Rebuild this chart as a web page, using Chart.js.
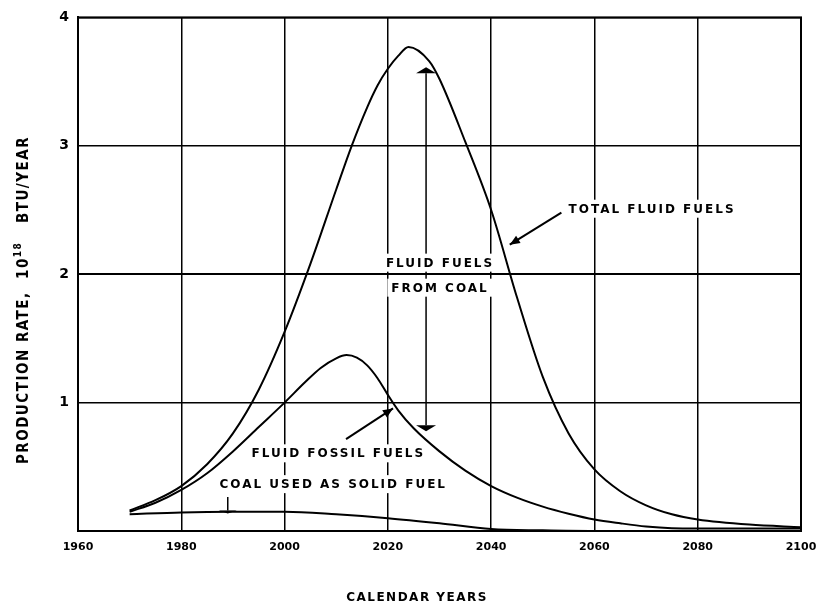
<!DOCTYPE html>
<html>
<head>
<meta charset="utf-8">
<script src="https://cdn.jsdelivr.net/npm/chart.js@4.4.1/dist/chart.umd.min.js"></script>
<style>
  html, body { margin: 0; padding: 0; background: #fff; }
  #wrap { width: 818px; height: 607px; }
</style>
</head>
<body>
<div id="wrap"><canvas id="fuelChart"></canvas></div>
<script>
// values (10^18 BTU/year)
const totalYears = [1970, 1975, 1980, 1985, 1990, 1995, 2000, 2005, 2010, 2013, 2016, 2018, 2020, 2022, 2024, 2028, 2030, 2035, 2040, 2045, 2050, 2055, 2060, 2065, 2070, 2075, 2080, 2090, 2100];
const totalFluid = [0.16, 0.24, 0.35, 0.52, 0.76, 1.1, 1.55, 2.08, 2.66, 3.0, 3.3, 3.47, 3.6, 3.7, 3.77, 3.66, 3.52, 3.03, 2.5, 1.82, 1.2, 0.76, 0.48, 0.31, 0.2, 0.13, 0.09, 0.05, 0.03];

const fossilYears = [1970, 1975, 1980, 1985, 1990, 1995, 2000, 2004, 2007, 2010, 2012, 2014, 2016, 2018, 2020, 2022, 2025, 2030, 2035, 2040, 2045, 2050, 2055, 2060, 2065, 2070, 2075, 2080, 2090, 2100];
const fossilFluid = [0.15, 0.22, 0.32, 0.45, 0.62, 0.81, 1.0, 1.16, 1.27, 1.345, 1.37, 1.35, 1.29, 1.19, 1.06, 0.94, 0.8, 0.62, 0.47, 0.35, 0.26, 0.19, 0.135, 0.09, 0.06, 0.035, 0.022, 0.02, 0.02, 0.02];

const coalYears = [1970, 1980, 1990, 2000, 2010, 2020, 2030, 2040, 2050, 2060, 2080, 2100];
const coalSolid = [0.13, 0.145, 0.15, 0.15, 0.13, 0.1, 0.06, 0.015, 0.005, 0, 0, 0];

const xTicks = [1960, 1980, 2000, 2020, 2040, 2060, 2080, 2100];
const yTicks = [0, 1, 2, 3, 4];

// text notes, placed in data units
const notes = [
  { text: 'TOTAL FLUID FUELS', x: 2055, y: 2.51, align: 'left' },
  { text: 'FLUID FUELS', x: 2030.1, y: 2.09, align: 'center' },
  { text: 'FROM COAL', x: 2030.1, y: 1.895, align: 'center' },
  { text: 'FLUID FOSSIL FUELS', x: 1993.6, y: 0.605, align: 'left' },
  { text: 'COAL USED AS SOLID FUEL', x: 1987.4, y: 0.365, align: 'left' }
];

const toPts = (xs, ys) => xs.map((v, i) => ({ x: v, y: ys[i] }));
const noteFont = 'bold 12px "DejaVu Sans", sans-serif';

function arrowHead(ctx, x1, y1, x2, y2, size) {
  const a = Math.atan2(y2 - y1, x2 - x1);
  ctx.beginPath();
  ctx.moveTo(x2, y2);
  ctx.lineTo(x2 - size * Math.cos(a - 0.4), y2 - size * Math.sin(a - 0.4));
  ctx.lineTo(x2 - size * Math.cos(a + 0.4), y2 - size * Math.sin(a + 0.4));
  ctx.closePath();
  ctx.fill();
}

function flatHead(ctx, px, py, dir) {
  // wide flat wedge like the hand-drawn marks
  ctx.beginPath();
  ctx.moveTo(px - 10, py);
  ctx.lineTo(px + 10, py);
  ctx.lineTo(px, py - dir * 6);
  ctx.closePath();
  ctx.fill();
}

const notesPlugin = {
  id: 'notes',
  beforeDatasetsDraw(chart) {
    const { ctx, scales: { x, y } } = chart;
    ctx.save();
    ctx.strokeStyle = '#000';
    ctx.fillStyle = '#000';
    ctx.lineWidth = 1.5;

    // double arrow: fluid fuels from coal
    const ax = x.getPixelForValue(2027.4);
    const top = y.getPixelForValue(3.565);
    const bot = y.getPixelForValue(0.823);
    ctx.beginPath();
    ctx.moveTo(ax, top);
    ctx.lineTo(ax, bot);
    ctx.stroke();
    flatHead(ctx, ax, top, 1);
    flatHead(ctx, ax, bot, -1);

    // small arrow to the coal curve
    const cx = x.getPixelForValue(1989);
    const c1 = y.getPixelForValue(0.264);
    const c2 = y.getPixelForValue(0.16);
    ctx.beginPath();
    ctx.moveTo(cx, c1);
    ctx.lineTo(cx, c2);
    ctx.stroke();
    ctx.beginPath();
    ctx.moveTo(cx - 9, c2);
    ctx.lineTo(cx + 9, c2);
    ctx.lineTo(cx, c2 + 3);
    ctx.closePath();
    ctx.fill();

    // labels on white patches
    ctx.font = noteFont;
    ctx.letterSpacing = '2px';
    ctx.textBaseline = 'middle';
    notes.forEach(n => {
      const w = ctx.measureText(n.text).width;
      const px = x.getPixelForValue(n.x);
      const py = y.getPixelForValue(n.y);
      const left = n.align === 'center' ? px - w / 2 : px;
      ctx.fillStyle = '#fff';
      ctx.fillRect(left - 4, py - 9, w + 8, 18);
      ctx.fillStyle = '#000';
      ctx.textAlign = 'left';
      ctx.fillText(n.text, left, py + 1);
    });

    // the y=2 line runs between the two lines of text
    const y2 = y.getPixelForValue(2);
    ctx.lineWidth = 1.5;
    ctx.beginPath();
    ctx.moveTo(chart.chartArea.left, y2);
    ctx.lineTo(chart.chartArea.right, y2);
    ctx.stroke();
    ctx.restore();
  },
  afterDatasetsDraw(chart) {
    const { ctx, scales: { x, y } } = chart;
    ctx.save();
    ctx.strokeStyle = '#000';
    ctx.fillStyle = '#000';
    ctx.lineWidth = 2;
    const arrows = [
      [2053.6, 2.48, 2043.6, 2.23],
      [2011.9, 0.715, 2021.0, 0.955]
    ];
    arrows.forEach(a => {
      const x1 = x.getPixelForValue(a[0]), y1 = y.getPixelForValue(a[1]);
      const x2 = x.getPixelForValue(a[2]), y2 = y.getPixelForValue(a[3]);
      ctx.beginPath();
      ctx.moveTo(x1, y1);
      ctx.lineTo(x2, y2);
      ctx.stroke();
      arrowHead(ctx, x1, y1, x2, y2, 11);
    });

    // outer frame
    const ca = chart.chartArea;
    ctx.strokeRect(ca.left, ca.top, ca.right - ca.left, ca.bottom - ca.top);
    ctx.restore();
  },
  afterDraw(chart) {
    const { ctx } = chart;
    ctx.save();
    ctx.fillStyle = '#000';
    // x title
    ctx.font = 'bold 12px "DejaVu Sans", sans-serif';
    ctx.letterSpacing = '1.5px';
    ctx.textAlign = 'center';
    ctx.textBaseline = 'middle';
    ctx.fillText('CALENDAR YEARS', 417, 598);

    // y title, rotated, with superscript exponent
    ctx.translate(24, 300);
    ctx.rotate(-Math.PI / 2);
    ctx.textAlign = 'left';
    const big = 'bold 15px "DejaVu Sans Condensed", "DejaVu Sans", sans-serif';
    const small = 'bold 10px "DejaVu Sans Condensed", "DejaVu Sans", sans-serif';
    const setFont = f => {
      ctx.font = f;
      ctx.fontStretch = 'condensed';
      ctx.letterSpacing = '1.5px';
    };
    const parts = [
      ['PRODUCTION RATE,  10', big, 0],
      ['18', small, -6],
      ['   BTU/YEAR', big, 0]
    ];
    let total = 0;
    parts.forEach(p => { setFont(p[1]); total += ctx.measureText(p[0]).width; });
    let cur = -total / 2;
    parts.forEach(p => {
      setFont(p[1]);
      ctx.fillText(p[0], cur, p[2]);
      cur += ctx.measureText(p[0]).width;
    });
    ctx.restore();
  }
};

new Chart(document.getElementById('fuelChart'), {
  type: 'line',
  data: {
    datasets: [
      { label: 'Total fluid fuels', data: toPts(totalYears, totalFluid) },
      { label: 'Fluid fossil fuels', data: toPts(fossilYears, fossilFluid) },
      { label: 'Coal used as solid fuel', data: toPts(coalYears, coalSolid) }
    ].map(d => Object.assign(d, {
      borderColor: '#000',
      borderWidth: 2,
      pointRadius: 0,
      fill: false,
      cubicInterpolationMode: 'monotone'
    }))
  },
  options: {
    responsive: true,
    maintainAspectRatio: false,
    animation: false,
    layout: { padding: { top: 16, right: 17, left: 0, bottom: 0 } },
    plugins: { legend: { display: false }, tooltip: { enabled: false } },
    scales: {
      x: {
        type: 'linear',
        min: 1960,
        max: 2100,
        afterBuildTicks: s => { s.ticks = xTicks.map(v => ({ value: v })); },
        afterFit: s => { s.height = 76; s.paddingLeft = 0; s.paddingRight = 0; },
        grid: { color: '#000', lineWidth: 1.5, drawTicks: false },
        border: { color: '#000', width: 2 },
        ticks: {
          color: '#000',
          padding: 10,
          maxRotation: 0,
          font: { family: 'DejaVu Sans', weight: 'bold', size: 11 },
          callback: v => String(v)
        }
      },
      y: {
        min: 0,
        max: 4,
        afterBuildTicks: s => { s.ticks = yTicks.map(v => ({ value: v })); },
        afterFit: s => { s.width = 78; },
        grid: { color: '#000', lineWidth: 1.5, drawTicks: false },
        border: { color: '#000', width: 2 },
        ticks: {
          color: '#000',
          padding: 9,
          font: { family: 'DejaVu Sans', weight: 'bold', size: 14 },
          callback: v => (v === 0 ? '' : v)
        }
      }
    }
  },
  plugins: [notesPlugin]
});
</script>
</body>
</html>
